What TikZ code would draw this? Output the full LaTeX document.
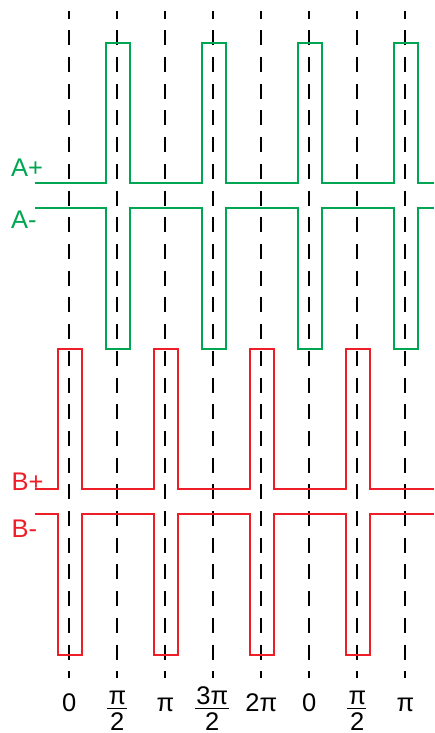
\documentclass[tikz,border=0pt]{standalone}
\usepackage{fontspec}
\setmainfont{Liberation Sans}
\definecolor{sigA}{RGB}{0,166,81}
\definecolor{sigB}{RGB}{238,30,40}
\begin{document}
\begin{tikzpicture}[x=1pt,y=-1pt,
  sig/.style={line width=2pt,line join=miter},
  guide/.style={line width=2pt,black,dash pattern=on 15pt off 11.7pt,dash phase=7pt},
  lbl/.style={inner sep=0pt,font=\fontsize{25.5}{30}\selectfont},
  fracbar/.style={line width=1.8pt,black}]
\useasboundingbox (0,0) rectangle (434,733);
% guide lines
\foreach \x [count=\i] in {69.3,117.3,165.3,213.3,261.3,309.3,357.3,405.3}{
  \coordinate (gt\i) at (\x,10.7);
  \coordinate (gb\i) at (\x,678.3);
  \draw[guide] (gt\i) -- (gb\i);
}
% A+ and A-
\draw[sig,sigA] (35,183.3) foreach \c in {118.3,214.3,310.3,406.3}{
  -- (\c-12,183.3) -- (\c-12,42.7) -- (\c+12,42.7) -- (\c+12,183.3)} -- (434,183.3);
\draw[sig,sigA] (35,207.7) foreach \c in {118.3,214.3,310.3,406.3}{
  -- (\c-12,207.7) -- (\c-12,349) -- (\c+12,349) -- (\c+12,207.7)} -- (434,207.7);
% B+ and B-
\draw[sig,sigB] (35,489.3) foreach \c in {70.3,166.3,262.3,358.3}{
  -- (\c-12,489.3) -- (\c-12,349) -- (\c+12,349) -- (\c+12,489.3)} -- (434,489.3);
\draw[sig,sigB] (35,514) foreach \c in {70.3,166.3,262.3,358.3}{
  -- (\c-12,514) -- (\c-12,655) -- (\c+12,655) -- (\c+12,514)} -- (434,514);
% signal labels
\node[lbl,text=sigA,anchor=base west] (lap) at (11,176) {A+};
\node[lbl,text=sigA,anchor=base west] (lam) at (11,228.3) {A-};
\node[lbl,text=sigB,anchor=base west] (lbp) at (11.5,490) {B+};
\node[lbl,text=sigB,anchor=base west] (lbm) at (11.5,537.3) {B-};
% phase labels
\node[lbl,anchor=base] (p1) at (69.3,711.5) {0};
\node[lbl,anchor=base] (p2n) at (117.3,704) {π};
\node[lbl,anchor=base] (p2d) at (117.3,730.5) {2};
\node[lbl,anchor=base] (p3) at (165.3,711.5) {π};
\node[lbl,anchor=base] (p4n) at (212.3,704) {3π};
\node[lbl,anchor=base] (p4d) at (212.3,730.5) {2};
\node[lbl,anchor=base] (p5) at (261.3,711.5) {2π};
\node[lbl,anchor=base] (p6) at (309.3,711.5) {0};
\node[lbl,anchor=base] (p7n) at (357.3,704) {π};
\node[lbl,anchor=base] (p7d) at (357.3,730.5) {2};
\node[lbl,anchor=base] (p8) at (405.3,711.5) {π};
% fraction bars
\coordinate (b2l) at (107.3,708.5); \coordinate (b2r) at (126.8,708.5);
\coordinate (b4l) at (195.3,708.5); \coordinate (b4r) at (228.6,708.5);
\coordinate (b7l) at (347.3,708.5); \coordinate (b7r) at (366.3,708.5);
\draw[fracbar] (b2l) -- (b2r);
\draw[fracbar] (b4l) -- (b4r);
\draw[fracbar] (b7l) -- (b7r);
\end{tikzpicture}
\end{document}
